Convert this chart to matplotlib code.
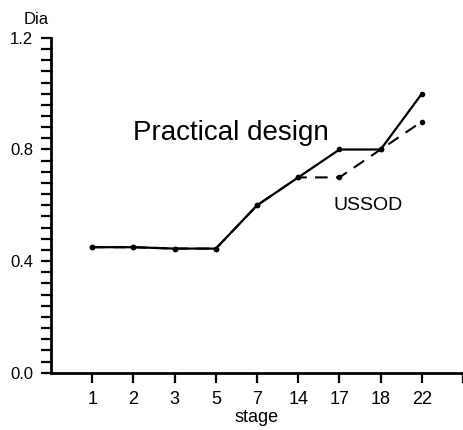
import matplotlib
matplotlib.use('Agg')
import matplotlib.pyplot as plt
from matplotlib.ticker import MultipleLocator

# === Données ===
stages = ["1", "2", "3", "5", "7", "14", "17", "18", "22"]
practical = [0.45, 0.45, 0.445, 0.445, 0.60, 0.70, 0.80, 0.80, 1.00]
ussod = [0.45, 0.45, 0.445, 0.445, 0.60, 0.70, 0.70, 0.80, 0.90]

plt.rcParams['font.family'] = ['Liberation Sans', 'DejaVu Sans']

fig = plt.figure(figsize=(4.64, 4.30), dpi=100)
ax = fig.add_axes([0.110, 0.133, 0.888, 0.779])

xpos = list(range(1, len(stages) + 1))
ax.plot(xpos, ussod, color='black', lw=1.5, ls=(0, (6, 4)), marker='o', ms=3)
ax.plot(xpos, practical, color='black', lw=1.6, marker='o', ms=3)

ax.set_xlim(0, 10)
ax.set_ylim(0, 1.2)
ax.set_xticks(xpos + [10])
ax.set_xticklabels(stages + [""], fontsize=13)
ax.yaxis.set_minor_locator(MultipleLocator(0.04))
ax.set_yticks([0.0, 0.4, 0.8, 1.2])
ax.set_yticklabels(["0.0", "0.4", "0.8", "1.2"], fontsize=12)
ax.tick_params(axis='both', which='both', direction='out', width=1.6, length=7, pad=6)

for s in ['top', 'right']:
    ax.spines[s].set_visible(False)
for s in ['left', 'bottom']:
    ax.spines[s].set_linewidth(2)

ax.text(2.0, 0.835, "Practical design", fontsize=20)
ax.text(6.85, 0.585, "USSOD", fontsize=14)
fig.text(0.05, 0.945, "Dia", fontsize=12)
ax.set_xlabel("stage", fontsize=13, labelpad=1)

plt.savefig("out.png", dpi=100)
